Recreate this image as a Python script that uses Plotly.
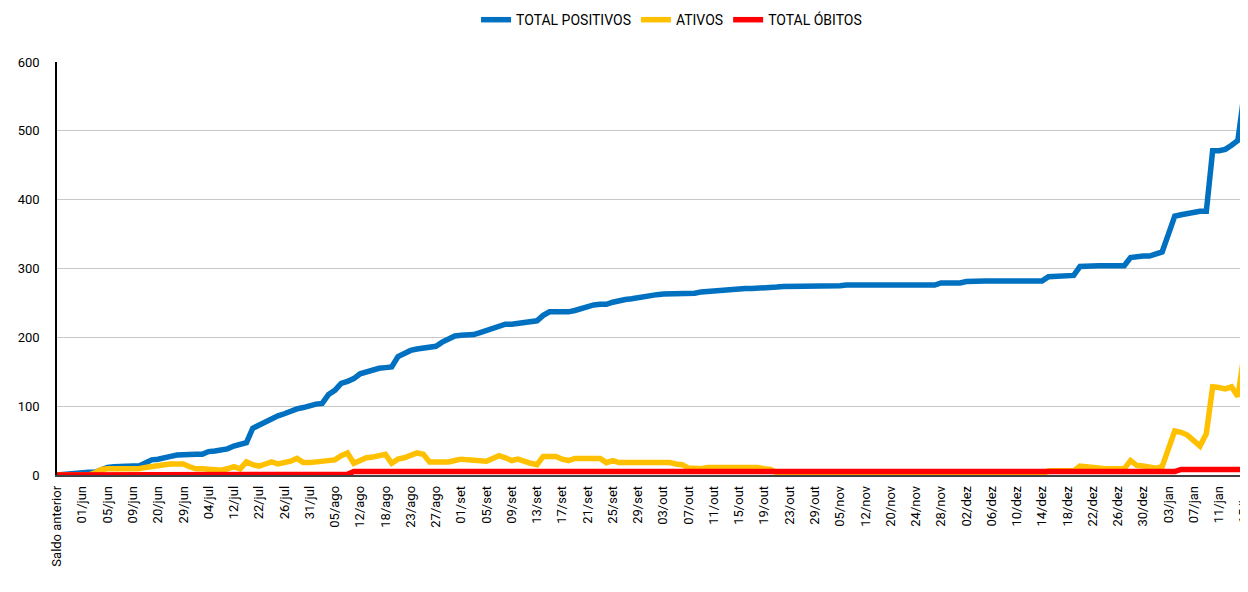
import plotly.graph_objects as go

# Tick labels (every 4th category is labelled)
tick_labels = [
    "Saldo anterior", "01/jun", "05/jun", "09/jun", "20/jun", "29/jun",
    "04/jul", "12/jul", "22/jul", "26/jul", "31/jul",
    "05/ago", "12/ago", "18/ago", "23/ago", "27/ago",
    "01/set", "05/set", "09/set", "13/set", "17/set", "21/set", "25/set", "29/set",
    "03/out", "07/out", "11/out", "15/out", "19/out", "23/out", "29/out",
    "05/nov", "12/nov", "20/nov", "24/nov", "28/nov",
    "02/dez", "06/dez", "10/dez", "14/dez", "18/dez", "22/dez", "26/dez", "30/dez",
    "03/jan", "07/jan", "11/jan", "15/jan",
]
label_step = 4

total_positivos = [
    0, 1, 3, 4, 4, 4, 4, 8, 11, 12,
    13, 13, 13, 13, 18, 22, 23, 24, 27, 29,
    30, 30, 30, 30, 34, 35, 36, 38, 42, 45,
    47, 68, 73, 77, 82, 86, 89, 93, 96, 98,
    101, 103, 104, 117, 123, 133, 136, 140, 147, 150,
    152, 155, 156, 157, 172, 177, 181, 183, 184, 185,
    187, 193, 197, 202, 203, 203, 204, 207, 210, 213,
    218, 219, 219, 220, 222, 223, 224, 232, 237, 237,
    237, 237, 239, 242, 245, 247, 248, 248, 251, 254,
    255, 256, 258, 260, 261, 262, 263, 263, 263, 263,
    263, 264, 266, 267, 268, 269, 270, 271, 271, 271,
    271, 271, 271, 272, 273, 274, 274, 275, 275, 275,
    275, 275, 275, 275, 275, 276, 276, 276, 276, 276,
    276, 276, 276, 276, 276, 276, 276, 276, 276, 276,
    279, 279, 279, 279, 281, 282, 282, 282, 282, 282,
    282, 282, 282, 282, 282, 282, 282, 288, 289, 289,
    290, 290, 303, 304, 304, 304, 304, 304, 304, 304,
    316, 318, 318, 318, 320, 324, 350, 376, 378, 380,
    383, 383, 383, 471, 471, 473, 479, 486, 555,
]

ativos = [
    0, 0, 0, 0, 0, 0, 3, 8, 9, 9,
    9, 9, 9, 9, 11, 13, 14, 15, 16, 17,
    16, 12, 9, 9, 8, 6, 7, 9, 12, 9,
    19, 15, 13, 16, 19, 16, 17, 20, 24, 18,
    18, 19, 20, 21, 22, 28, 32, 17, 22, 25,
    26, 28, 30, 17, 23, 25, 28, 32, 30, 19,
    19, 18, 19, 21, 23, 22, 21, 21, 20, 24,
    28, 25, 21, 23, 19, 17, 15, 27, 27, 27,
    23, 21, 24, 24, 24, 24, 24, 18, 21, 18,
    18, 18, 18, 18, 18, 18, 18, 18, 16, 15,
    10, 9, 9, 11, 11, 11, 11, 11, 11, 11,
    11, 11, 9, 8, 3, 1, 1, 1, 1, 1,
    1, 1, 1, 1, 1, 1, 1, 1, 1, 1,
    1, 1, 1, 1, 1, 1, 1, 1, 1, 1,
    1, 1, 1, 1, 1, 1, 1, 1, 1, 1,
    1, 1, 1, 1, 1, 1, 1, 6, 6, 6,
    6, 6, 13, 12, 9, 9, 9, 9, 9, 9,
    21, 14, 13, 12, 10, 12, 38, 64, 62, 58,
    50, 42, 60, 128, 127, 125, 128, 114, 177,
]

total_obitos = (
    [0] * 15 + [1] * 32 + [5] * 131 + [8] * 11
)

x_idx = list(range(len(total_positivos)))
tick_vals = list(range(0, len(tick_labels) * label_step, label_step))

FONT = "Roboto, Arial, sans-serif"

fig = go.Figure()
fig.add_trace(go.Scatter(x=x_idx, y=total_positivos, mode="lines", name="TOTAL POSITIVOS",
                         line=dict(color="#0070C0", width=5.5)))
fig.add_trace(go.Scatter(x=x_idx, y=ativos, mode="lines", name="ATIVOS",
                         line=dict(color="#FFC000", width=5.5)))
fig.add_trace(go.Scatter(x=x_idx, y=total_obitos, mode="lines", name="TOTAL ÓBITOS",
                         line=dict(color="#FF0000", width=5.5)))

# page body has an 8px margin: figure is 1240x576 placed at (8, 8)
fig.update_layout(
    width=1240, height=576,
    margin=dict(l=49, r=0, t=54, b=109, autoexpand=False),
    paper_bgcolor="white", plot_bgcolor="white",
    font=dict(family=FONT, size=12, color="#000000"),
    showlegend=True,
    legend=dict(orientation="h", x=0.516, xanchor="center",
                yref="container", y=0.979, yanchor="middle",
                font=dict(size=14, family=FONT), traceorder="normal", itemwidth=30),
    hovermode=False,
)
fig.update_xaxes(
    range=[0, 188.6], tickmode="array", tickvals=tick_vals, ticktext=tick_labels,
    tickangle=-90, tickfont=dict(size=13, family=FONT), showgrid=False,
    showline=True, linecolor="#404040", linewidth=1.5, zeroline=False, ticks="",
    ticklabelstandoff=4, ticklabeloverflow="allow", automargin=False,
)
fig.update_yaxes(
    range=[0, 600], tickvals=[0, 100, 200, 300, 400, 500, 600],
    showgrid=True, gridcolor="#C8C8C8", gridwidth=1,
    showline=True, linecolor="#000000", linewidth=1.5, zeroline=False,
    tickfont=dict(size=13, family=FONT), ticks="", ticklabelstandoff=13,
    automargin=False,
)

fig.write_html("out.html")
